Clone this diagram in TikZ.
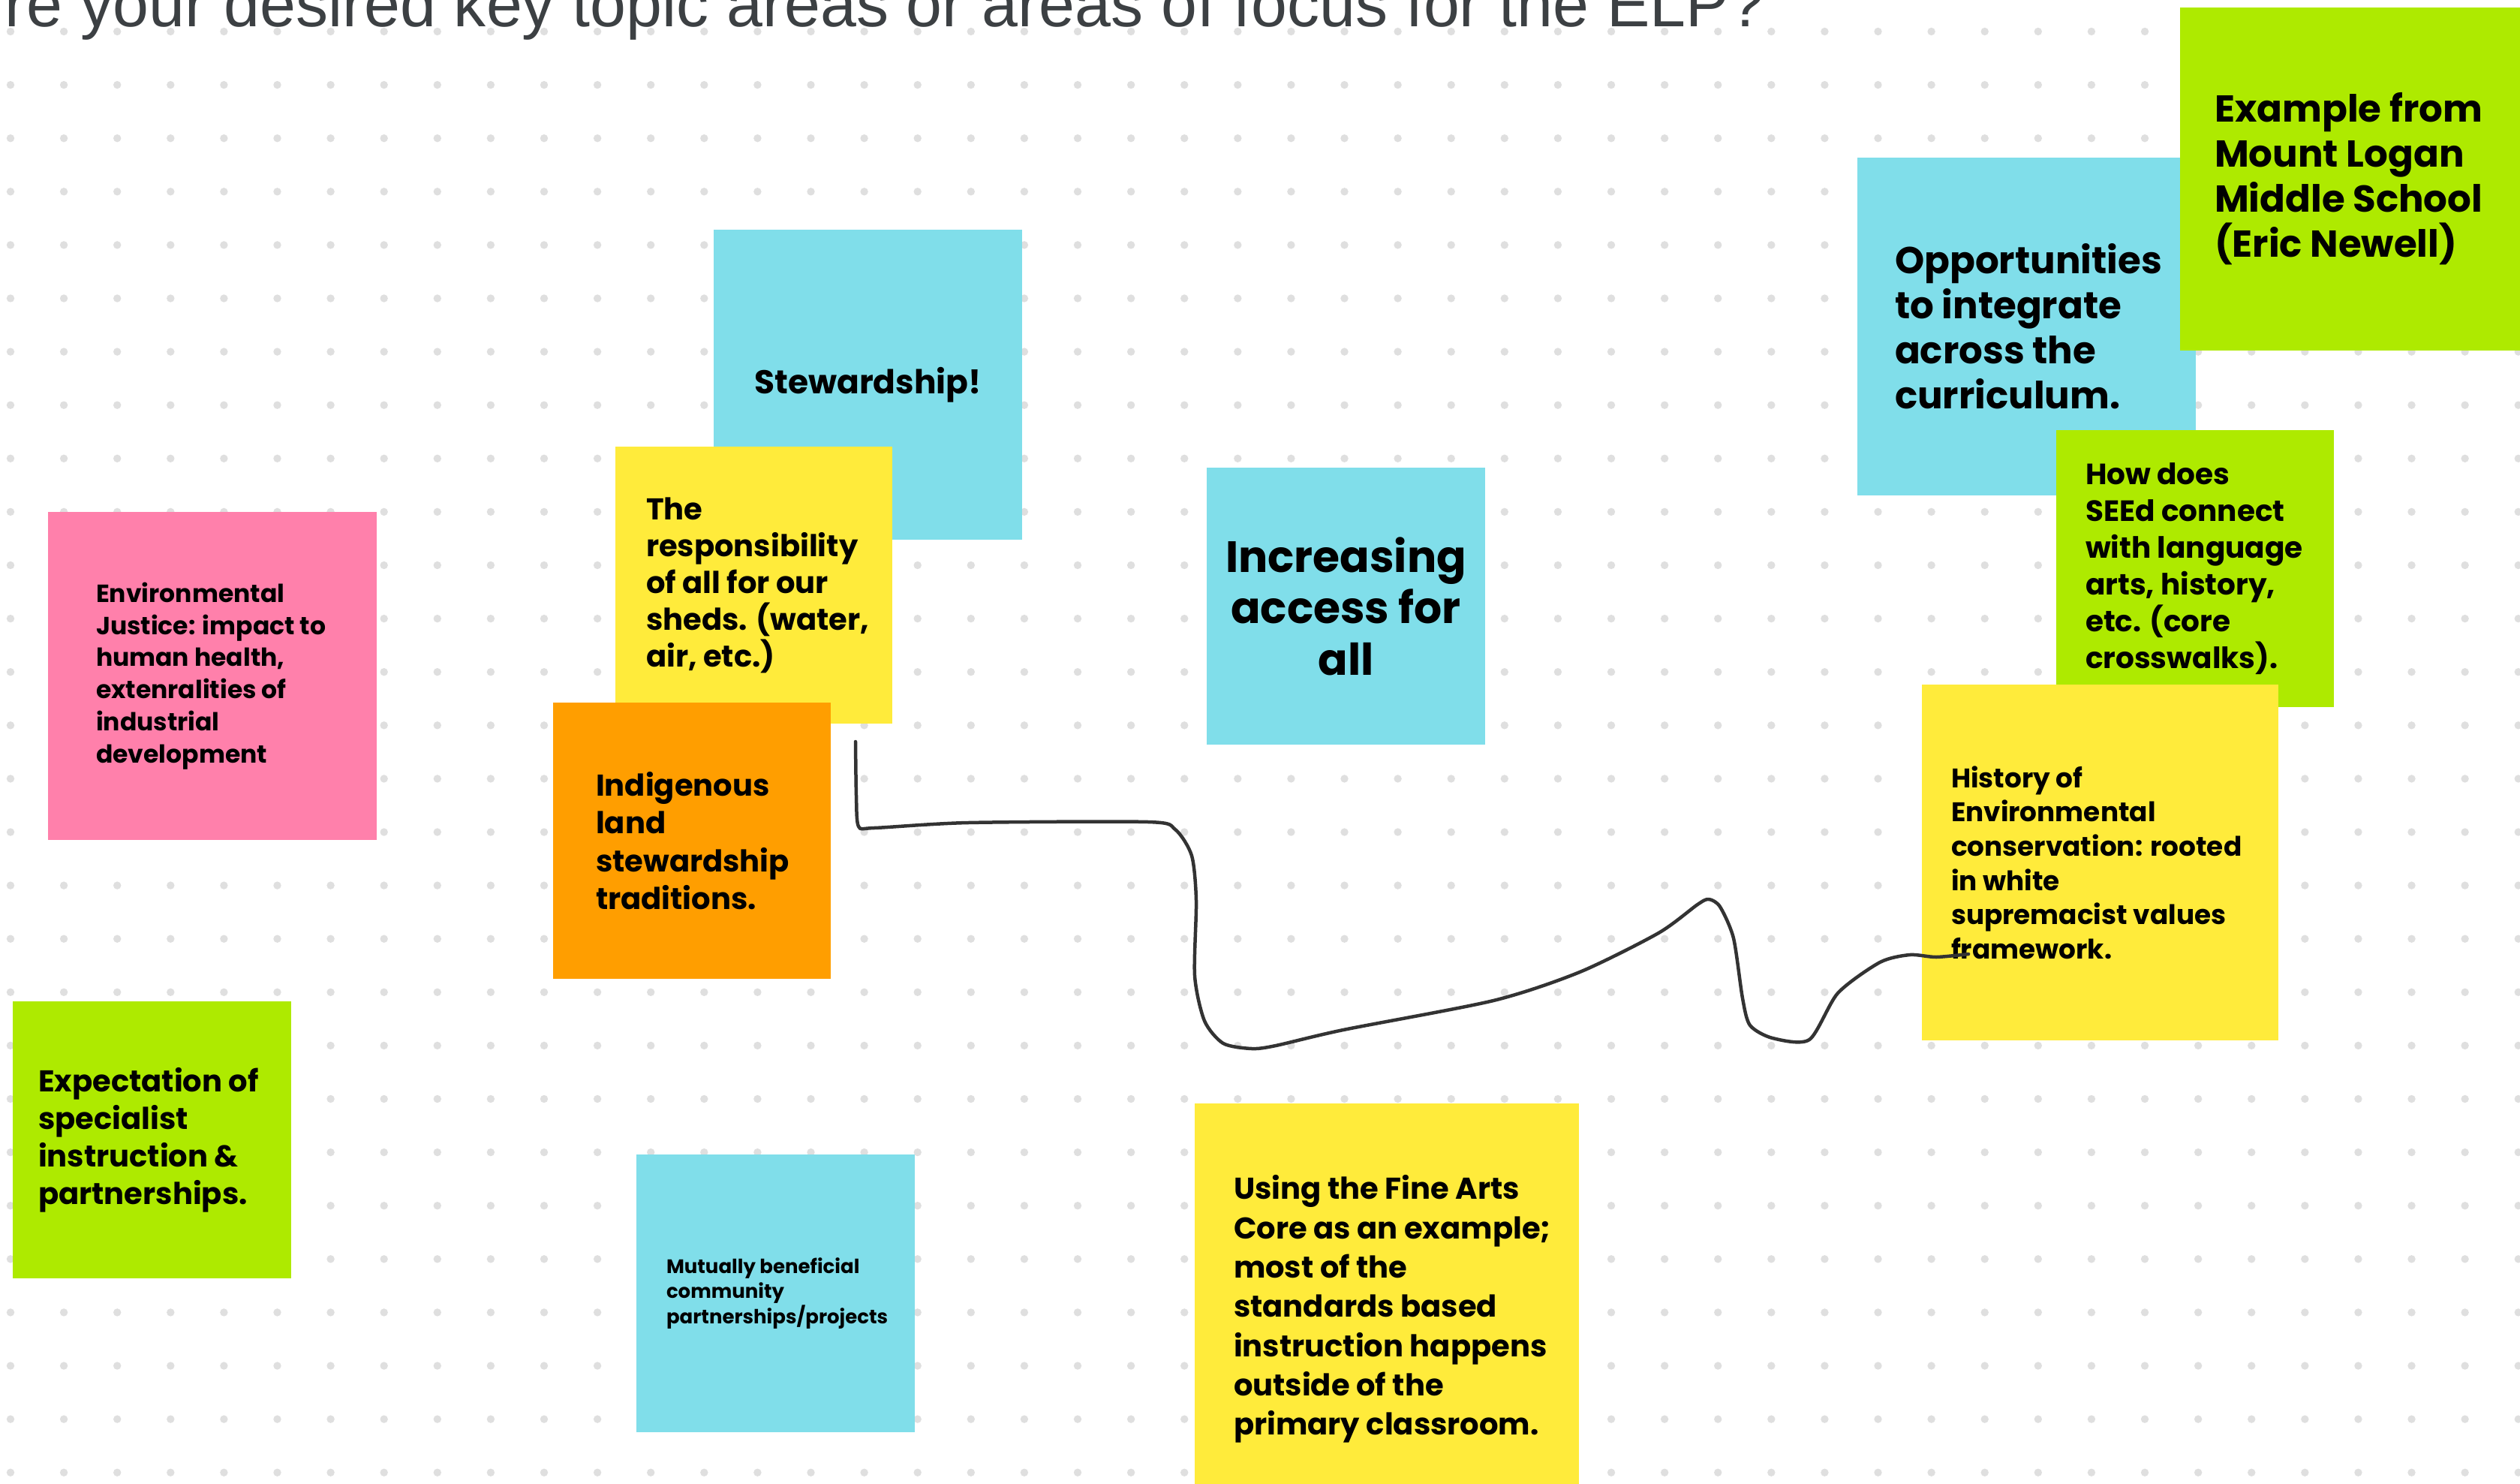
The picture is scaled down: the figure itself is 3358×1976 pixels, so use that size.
\documentclass[tikz,border=0pt]{standalone}
\usepackage{fontspec}
\setmainfont{Poppins}
\newfontfamily\titlefont{Liberation Sans}
\usepackage{tikz}
\usetikzlibrary{
	calc,
	fit,
	positioning
}
\definecolor{noteblue}{HTML}{80DEEA}
\definecolor{noteyellow}{HTML}{FFEB3B}
\definecolor{notegreen}{HTML}{AEEA00}
\definecolor{notepink}{HTML}{FF80AB}
\definecolor{noteorange}{HTML}{FF9E00}
\definecolor{dotgray}{HTML}{DFDFDF}
\definecolor{titlegray}{HTML}{3C4043}
\definecolor{scribblegray}{HTML}{333333}
\tikzset{every path/.append style={line width=0.5pt}}
\tikzset{
	note/.style={rectangle,inner sep=0pt,outer sep=0pt,draw=none},
	notetext/.style={inner sep=0pt,outer sep=0pt,align=left,text=black},
	scribble/.style={draw=scribblegray,line width=0.45mm,line cap=round,line join=round}
}
\newcommand{\noteFont}[2]{\fontsize{#1}{#2}\selectfont\bfseries}
\newcommand{\tikzNote}[4][]{\node (#4) [note,fill=#2,#1,fit={#3}]{};}

\begin{document}
\begin{tikzpicture}[x=0.1mm,y=-0.1mm]
	\useasboundingbox[fill=white] (0,0) rectangle (3358,1976);
	
	% dotted board
	\foreach \i in {0,...,47}{
		\foreach \j in {0,...,27}{
			\fill[dotgray] (14+71.1*\i,42+71.1*\j) circle[radius=0.52mm];
		}
	}
	
	\node[anchor=base east,inner sep=0pt,text=titlegray,font=\titlefont\fontsize{24.5}{29}\selectfont] (question) at (2353,36) {re your desired key topic areas or areas of focus for the ELP?};
	
	% left column
	\tikzNote{notepink}{(64,682) (502,1119)}{justice}
	\node[notetext,anchor=west,font=\noteFont{9.4}{12.15}] (justiceTxt) at ($(justice.west)+(64,0)$) {Environmental\\Justice: impact to\\human health,\\extenralities of\\industrial\\development};
	
	\tikzNote{notegreen}{(17,1334) (388,1703)}{specialist}
	\node[notetext,anchor=west,font=\noteFont{11.4}{14.2}] (specialistTxt) at ($(specialist.west)+(34,0)$) {Expectation of\\specialist\\instruction \&\\partnerships.};
	
	% middle stack
	\tikzNote{noteblue}{(951,306) (1362,719)}{stewardship}
	\node[notetext,align=center,font=\noteFont{12.5}{15}] (stewardshipTxt) at (stewardship) {Stewardship!};
	
	\tikzNote{noteyellow}{(820,595) (1189,964)}{sheds}
	\node[notetext,anchor=west,font=\noteFont{11.4}{13.95}] (shedsTxt) at ($(sheds.west)+(41,0)$) {The\\responsibility\\of all for our\\sheds. (water,\\air, etc.)};
	
	\tikzNote{noteorange}{(737,936) (1107,1304)}{indigenous}
	\node[notetext,anchor=west,font=\noteFont{11.4}{14.3}] (indigenousTxt) at ($(indigenous.west)+(57,0)$) {Indigenous\\land\\stewardship\\traditions.};
	
	\tikzNote{noteblue}{(848,1538) (1219,1908)}{partners}
	\node[notetext,anchor=west,font=\noteFont{7.4}{9.5}] (partnersTxt) at ($(partners.west)+(40,0)$) {Mutually beneficial\\community\\partnerships/projects};
	
	\tikzNote{noteblue}{(1608,623) (1979,992)}{access}
	\node[notetext,align=center,font=\noteFont{16.6}{19.5}] (accessTxt) at (access) {Increasing\\access for\\all};
	
	\tikzNote{noteyellow}{(1592,1470) (2104,2010)}{finearts}
	\node[notetext,anchor=west,font=\noteFont{11.4}{14.9}] (fineartsTxt) at ($(finearts.north west)+(52,274)$) {Using the Fine Arts\\Core as an example;\\most of the\\standards based\\instruction happens\\outside of the\\primary classroom.};
	
	% right cluster
	\tikzNote{noteblue}{(2475,210) (2926,660)}{integrate}
	\node[notetext,anchor=west,font=\noteFont{14.2}{17.1}] (integrateTxt) at ($(integrate.west)+(50,0)$) {Opportunities\\to integrate\\across the\\curriculum.};
	
	\tikzNote{notegreen}{(2905,10) (3362,467)}{logan}
	\node[notetext,anchor=west,font=\noteFont{14.2}{17.1}] (loganTxt) at ($(logan.west)+(46,0)$) {Example from\\Mount Logan\\Middle School\\(Eric Newell)};
	
	\tikzNote{notegreen}{(2740,573) (3110,942)}{crosswalk}
	\node[notetext,anchor=west,font=\noteFont{11.1}{13.95}] (crosswalkTxt) at ($(crosswalk.west)+(39,0)$) {How does\\SEEd connect\\with language\\arts, history,\\etc. (core\\crosswalks).};
	
	\tikzNote{noteyellow}{(2561,912) (3036,1386)}{history}
	\node[notetext,anchor=west,font=\noteFont{10.2}{13}] (historyTxt) at ($(history.west)+(39,0)$) {History of\\Environmental\\conservation: rooted\\in white\\supremacist values\\framework.};
	
	% hand drawn line
	\coordinate (scribStart) at (1140,988);
	\coordinate (scribEnd) at (2623,1271);
	\draw[scribble] plot[smooth,tension=0.45] coordinates {(scribStart) (1141,1060) (1144,1101) (1165,1103) (1290,1096) (1530,1095) (1566,1105) (1588,1140) (1594,1200) (1592,1300) (1605,1360) (1630,1390) (1668,1397) (1700,1393) (1790,1372) (1990,1333) (2105,1295) (2210,1243) (2262,1205) (2277,1198) (2292,1208) (2310,1250) (2322,1330) (2332,1366) (2362,1383) (2411,1385) (2449,1323) (2505,1282) (2545,1272) (2580,1275) (scribEnd)};
\end{tikzpicture}
\end{document}
